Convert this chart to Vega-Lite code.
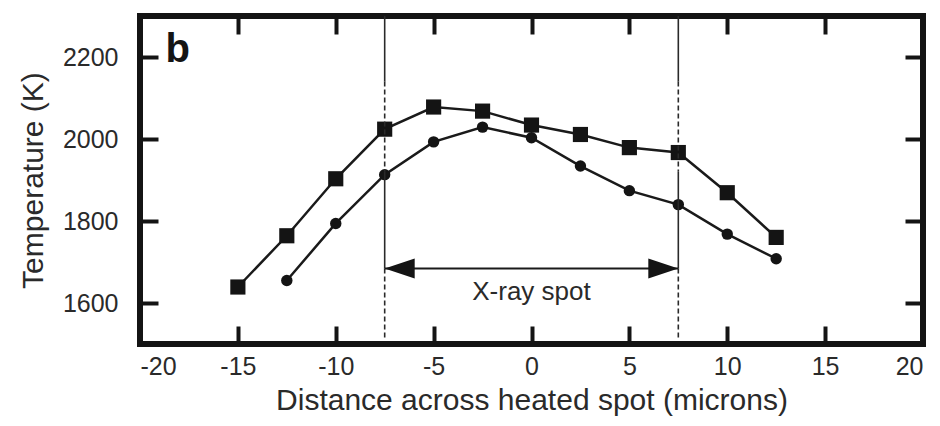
{
  "$schema": "https://vega.github.io/schema/vega-lite/v6.json",
  "autosize": {"type": "none"},
  "padding": {"left": 140, "top": 16, "right": 17, "bottom": 82},
  "width": 783,
  "height": 328,
  "background": "white",
  "config": {
    "font": "Liberation Sans",
    "view": {"stroke": "#141414", "strokeWidth": 6},
    "axis": {
      "domain": false,
      "grid": false,
      "tickWidth": 4,
      "labelFont": "Liberation Sans",
      "labelFontSize": 25,
      "labelColor": "#2a2a2a",
      "labelExpr": "'' + datum.value",
      "titleFont": "Liberation Sans",
      "titleFontSize": 30,
      "titleFontWeight": "normal",
      "titleColor": "#2a2a2a"
    }
  },
  "datasets": {
    "temps": [
      {"series": "square", "x": -15, "t": 1639},
      {"series": "square", "x": -12.5, "t": 1764},
      {"series": "square", "x": -10, "t": 1903},
      {"series": "square", "x": -7.5, "t": 2024},
      {"series": "square", "x": -5, "t": 2078},
      {"series": "square", "x": -2.5, "t": 2068},
      {"series": "square", "x": 0, "t": 2034},
      {"series": "square", "x": 2.5, "t": 2011},
      {"series": "square", "x": 5, "t": 1979},
      {"series": "square", "x": 7.5, "t": 1967},
      {"series": "square", "x": 10, "t": 1869},
      {"series": "square", "x": 12.5, "t": 1760},
      {"series": "circle", "x": -12.5, "t": 1655},
      {"series": "circle", "x": -10, "t": 1794},
      {"series": "circle", "x": -7.5, "t": 1913},
      {"series": "circle", "x": -5, "t": 1993},
      {"series": "circle", "x": -2.5, "t": 2029},
      {"series": "circle", "x": 0, "t": 2003},
      {"series": "circle", "x": 2.5, "t": 1934},
      {"series": "circle", "x": 5, "t": 1874},
      {"series": "circle", "x": 7.5, "t": 1840},
      {"series": "circle", "x": 10, "t": 1768},
      {"series": "circle", "x": 12.5, "t": 1708}
    ],
    "edgesSolid": [
      {"x": -7.5, "t": 2300, "t2": 2140},
      {"x": -7.5, "t": 1920, "t2": 1684},
      {"x": 7.5, "t": 2300, "t2": 2140},
      {"x": 7.5, "t": 1920, "t2": 1684}
    ],
    "edgesDashed": [
      {"x": -7.5, "t": 2140, "t2": 1920},
      {"x": -7.5, "t": 1684, "t2": 1515},
      {"x": 7.5, "t": 2140, "t2": 1920},
      {"x": 7.5, "t": 1684, "t2": 1515}
    ],
    "spot": [
      {"x": -7.5, "x2": 7.5, "t": 1684}
    ],
    "spotLabel": [
      {"x": 0, "t": 1627, "label": "X-ray spot"}
    ],
    "panel": [
      {"x": -18.7, "t": 2188, "label": "b"}
    ]
  },
  "resolve": {"axis": {"x": "independent", "y": "independent"}},
  "layer": [
    {
      "data": {"name": "temps"},
      "mark": {"type": "line", "color": "#1a1a1a", "strokeWidth": 2.5},
      "encoding": {
        "x": {
          "field": "x", "type": "quantitative",
          "scale": {"domain": [-20, 20], "nice": false, "zero": false},
          "axis": {
            "orient": "bottom",
            "values": [-20, -15, -10, -5, 0, 5, 10, 15, 20],
            "tickSize": -18,
            "tickColor": "#141414",
            "labelPadding": 28,
            "title": "Distance across heated spot (microns)",
            "titlePadding": 6
          }
        },
        "y": {
          "field": "t", "type": "quantitative",
          "scale": {"domain": [1500, 2300], "nice": false, "zero": false},
          "axis": {
            "orient": "left",
            "values": [1600, 1800, 2000, 2200],
            "tickSize": -18,
            "tickColor": "#141414",
            "labelPadding": 40,
            "title": "Temperature (K)",
            "titlePadding": 14
          }
        },
        "detail": {"field": "series"}
      }
    },
    {
      "data": {"name": "temps"},
      "transform": [{"filter": "datum.series === 'square'"}],
      "mark": {"type": "point", "shape": "square", "filled": true, "size": 230, "color": "#141414", "opacity": 1},
      "encoding": {
        "x": {
          "field": "x", "type": "quantitative",
          "scale": {"domain": [-20, 20], "nice": false, "zero": false},
          "axis": {"orient": "top", "values": [-15, -10, -5, 0, 5, 10, 15], "tickSize": -18, "tickColor": "#141414", "labels": false, "title": null}
        },
        "y": {
          "field": "t", "type": "quantitative",
          "scale": {"domain": [1500, 2300], "nice": false, "zero": false},
          "axis": {"orient": "right", "values": [1600, 1800, 2000, 2200], "tickSize": -18, "tickColor": "#141414", "labels": false, "title": null}
        }
      }
    },
    {
      "data": {"name": "temps"},
      "transform": [{"filter": "datum.series === 'circle'"}],
      "mark": {"type": "point", "shape": "circle", "filled": true, "size": 130, "color": "#141414", "opacity": 1},
      "encoding": {
        "x": {"field": "x", "type": "quantitative", "axis": null},
        "y": {"field": "t", "type": "quantitative", "axis": null}
      }
    },
    {
      "data": {"name": "edgesSolid"},
      "mark": {"type": "rule", "color": "#2a2a2a", "strokeWidth": 1.6},
      "encoding": {
        "x": {"field": "x", "type": "quantitative", "axis": null},
        "y": {"field": "t", "type": "quantitative", "axis": null},
        "y2": {"field": "t2"}
      }
    },
    {
      "data": {"name": "edgesDashed"},
      "mark": {"type": "rule", "color": "#2a2a2a", "strokeWidth": 1.6, "strokeDash": [5, 3]},
      "encoding": {
        "x": {"field": "x", "type": "quantitative", "axis": null},
        "y": {"field": "t", "type": "quantitative", "axis": null},
        "y2": {"field": "t2"}
      }
    },
    {
      "data": {"name": "spot"},
      "mark": {"type": "rule", "color": "#1a1a1a", "strokeWidth": 2},
      "encoding": {
        "x": {"field": "x", "type": "quantitative", "axis": null},
        "x2": {"field": "x2"},
        "y": {"field": "t", "type": "quantitative", "axis": null}
      }
    },
    {
      "data": {"name": "spot"},
      "mark": {"type": "point", "shape": "M 0 0 L 2 -0.667 L 2 0.667 Z", "filled": true, "size": 900, "color": "#141414", "opacity": 1},
      "encoding": {
        "x": {"field": "x", "type": "quantitative", "axis": null},
        "y": {"field": "t", "type": "quantitative", "axis": null}
      }
    },
    {
      "data": {"name": "spot"},
      "mark": {"type": "point", "shape": "M 0 0 L -2 -0.667 L -2 0.667 Z", "filled": true, "size": 900, "color": "#141414", "opacity": 1},
      "encoding": {
        "x": {"field": "x2", "type": "quantitative", "axis": null},
        "y": {"field": "t", "type": "quantitative", "axis": null}
      }
    },
    {
      "data": {"name": "spotLabel"},
      "mark": {"type": "text", "fontSize": 26, "color": "#2a2a2a", "align": "center", "baseline": "middle"},
      "encoding": {
        "x": {"field": "x", "type": "quantitative", "axis": null},
        "y": {"field": "t", "type": "quantitative", "axis": null},
        "text": {"field": "label"}
      }
    },
    {
      "data": {"name": "panel"},
      "mark": {"type": "text", "fontSize": 40, "fontWeight": "bold", "color": "#141414", "align": "left", "baseline": "alphabetic"},
      "encoding": {
        "x": {"field": "x", "type": "quantitative", "axis": null},
        "y": {"field": "t", "type": "quantitative", "axis": null},
        "text": {"field": "label"}
      }
    }
  ]
}
